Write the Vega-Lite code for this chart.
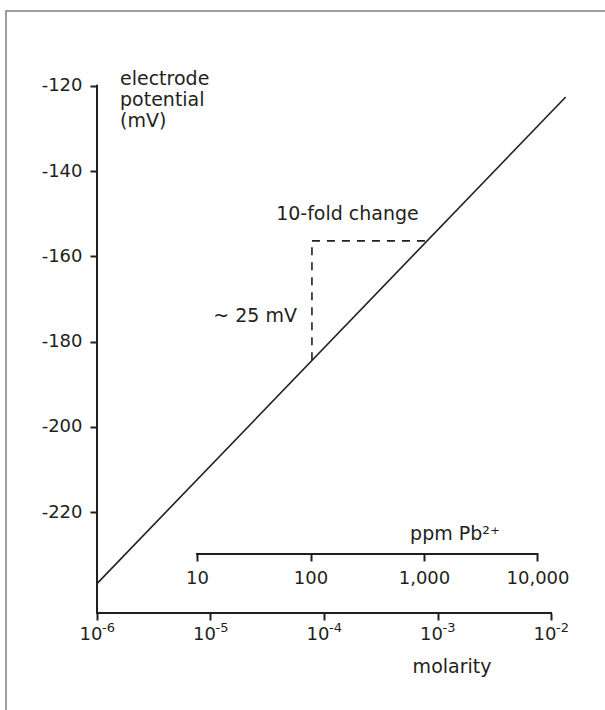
{
  "$schema": "https://vega.github.io/schema/vega-lite/v6.json",
  "autosize": {"type": "none"},
  "padding": {"left": 6, "top": 11, "right": 0, "bottom": 0},
  "width": 600,
  "height": 700,
  "background": "white",
  "config": {
    "view": {"stroke": "#808080", "strokeWidth": 1.5},
    "font": "DejaVu Sans",
    "axis": {
      "domain": false,
      "grid": false,
      "ticks": true,
      "tickSize": 7,
      "tickWidth": 2,
      "tickColor": "#231f20",
      "labelFont": "DejaVu Sans",
      "labelFontSize": 18,
      "labelColor": "#231f20",
      "labelFlush": false,
      "labelOverlap": false
    }
  },
  "resolve": {"scale": {"x": "independent"}, "axis": {"x": "independent"}},
  "layer": [
    {
      "layer": [
        {
          "data": {"values": [
            {"molarity": 0.000001, "mV": -236.8},
            {"molarity": 0.013472, "mV": -122.64}
          ]},
          "mark": {"type": "line", "color": "#231f20", "strokeWidth": 1.6, "clip": false},
          "encoding": {
            "x": {
              "field": "molarity", "type": "quantitative", "title": null,
              "scale": {"type": "log", "domain": [1.5786e-7, 0.030517], "nice": false},
              "axis": {
                "orient": "bottom", "offset": -98, "labelPadding": 5, "labelOffset": -6.5,
                "values": [0.000001, 0.00001, 0.0001, 0.001, 0.01],
                "labelExpr": "'10'"
              }
            },
            "y": {
              "field": "mV", "type": "quantitative", "title": null,
              "scale": {"domain": [-266.686, -102.463], "nice": false, "zero": false},
              "axis": {
                "orient": "left", "offset": -91, "labelPadding": 8,
                "values": [-120, -140, -160, -180, -200, -220],
                "labelExpr": "'' + datum.value"
              }
            }
          }
        },
        {
          "data": {"values": [
            {"molarity": 0.000001, "mV": -243.7, "exp": "-6"},
            {"molarity": 0.00001, "mV": -243.7, "exp": "-5"},
            {"molarity": 0.0001, "mV": -243.7, "exp": "-4"},
            {"molarity": 0.001, "mV": -243.7, "exp": "-3"},
            {"molarity": 0.01, "mV": -243.7, "exp": "-2"}
          ]},
          "mark": {"type": "text", "align": "left", "baseline": "top", "fontSize": 13, "dx": 5, "dy": 9, "color": "#231f20", "clip": false},
          "encoding": {
            "x": {"field": "molarity", "type": "quantitative", "title": null},
            "y": {"field": "mV", "type": "quantitative", "title": null},
            "text": {"field": "exp"}
          }
        },
        {
          "data": {"values": [
            {"m1": 0.000001, "m2": 0.000001, "v1": -243.7, "v2": -120},
            {"m1": 0.000001, "m2": 0.01, "v1": -243.7, "v2": -243.7}
          ]},
          "mark": {"type": "rule", "color": "#231f20", "strokeWidth": 2, "strokeCap": "square", "clip": false},
          "encoding": {
            "x": {"field": "m1", "type": "quantitative", "title": null},
            "x2": {"field": "m2"},
            "y": {"field": "v1", "type": "quantitative", "title": null},
            "y2": {"field": "v2"}
          }
        },
        {
          "data": {"values": [
            {"m1": 0.0000783, "m2": 0.0000783, "v1": -184.4, "v2": -156.4},
            {"m1": 0.0000783, "m2": 0.000776, "v1": -156.4, "v2": -156.4}
          ]},
          "mark": {"type": "rule", "color": "#231f20", "strokeWidth": 1.6, "strokeDash": [8, 7], "clip": false},
          "encoding": {
            "x": {"field": "m1", "type": "quantitative", "title": null},
            "x2": {"field": "m2"},
            "y": {"field": "v1", "type": "quantitative", "title": null},
            "y2": {"field": "v2"}
          }
        },
        {
          "data": {"values": [
            {"label": "10-fold change", "molarity": 0.000161, "mV": -151.4},
            {"label": "molarity", "molarity": 0.001343, "mV": -257.8},
            {"label": "ppm Pb²⁺", "molarity": 0.001426, "mV": -226.6}
          ]},
          "mark": {"type": "text", "align": "center", "baseline": "alphabetic", "fontSize": 19, "color": "#231f20", "clip": false},
          "encoding": {
            "x": {"field": "molarity", "type": "quantitative", "title": null},
            "y": {"field": "mV", "type": "quantitative", "title": null},
            "text": {"field": "label"}
          }
        },
        {
          "data": {"values": [
            {"label": "~ 25 mV", "molarity": 0.0000578, "mV": -175.4}
          ]},
          "mark": {"type": "text", "align": "right", "baseline": "alphabetic", "fontSize": 19, "color": "#231f20", "clip": false},
          "encoding": {
            "x": {"field": "molarity", "type": "quantitative", "title": null},
            "y": {"field": "mV", "type": "quantitative", "title": null},
            "text": {"field": "label"}
          }
        },
        {
          "data": {"values": [
            {"label": "electrode\npotential\n(mV)", "molarity": 0.000001595, "mV": -119.8}
          ]},
          "mark": {"type": "text", "align": "left", "baseline": "alphabetic", "fontSize": 19, "lineBreak": "\n", "lineHeight": 21, "color": "#231f20", "clip": false},
          "encoding": {
            "x": {"field": "molarity", "type": "quantitative", "title": null},
            "y": {"field": "mV", "type": "quantitative", "title": null},
            "text": {"field": "label"}
          }
        }
      ]
    },
    {
      "data": {"values": [
        {"p1": 10, "p2": 10000, "mV": -229.85}
      ]},
      "mark": {"type": "rule", "color": "#231f20", "strokeWidth": 2, "strokeCap": "square", "clip": false},
      "encoding": {
        "x": {
          "field": "p1", "type": "quantitative", "title": null,
          "scale": {"type": "log", "domain": [0.20753, 40142], "nice": false},
          "axis": {
            "orient": "bottom", "offset": -157, "labelPadding": 8,
            "values": [10, 100, 1000, 10000], "format": ","
          }
        },
        "x2": {"field": "p2"},
        "y": {"field": "mV", "type": "quantitative", "title": null},
        "y2": {"field": "mV"}
      }
    }
  ]
}
